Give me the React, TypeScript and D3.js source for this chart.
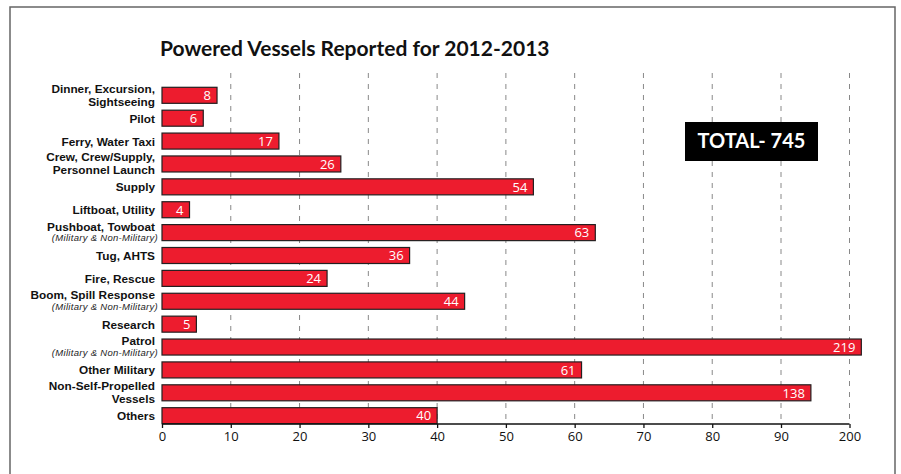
import { useRef, useEffect } from "react"
import * as d3 from "d3"

// vessel categories, top to bottom ("|" splits a label over two lines)
const categories = [
  "Dinner, Excursion, |Sightseeing",
  "Pilot",
  "Ferry, Water Taxi ",
  "Crew, Crew/Supply, |Personnel Launch",
  "Supply",
  "Liftboat, Utility",
  "Pushboat, Towboat ",
  "Tug, AHTS",
  "Fire, Rescue",
  "Boom, Spill Response",
  "Research",
  "Patrol ",
  "Other Military",
  "Non-Self-Propelled|Vessels",
  "Others",
]
const subtitles = ["", "", "", "", "", "", "(Military & Non-Military)", "", "", "(Military & Non-Military)", "", "(Military & Non-Military)", "", "", ""]
const counts = [8, 6, 17, 26, 54, 4, 63, 36, 24, 44, 5, 219, 61, 138, 40]
const tickValues = [0, 10, 20, 30, 40, 50, 60, 70, 80, 90, 200]
const total = 745

export default function App() {
  const svgRef = useRef<SVGSVGElement>(null)

  useEffect(() => {
    if (!svgRef.current) return
    const svg = d3.select(svgRef.current)
    svg.selectAll("*").remove()

    const height = 474

    // broken axis: last step jumps from 90 to 200
    const x = d3.scaleLinear().domain([0, 90, 200]).range([162, 781, 849.5])
    const y = d3.scaleBand<number>().domain(d3.range(categories.length)).range([87.3, 423.7]).paddingInner(0.3).paddingOuter(0)

    // frame
    svg
      .append("path")
      .attr("d", `M10,${height + 5}V7H895V${height + 5}`)
      .attr("fill", "none")
      .attr("stroke", "#666")
      .attr("stroke-width", 1.5)

    // title
    svg
      .append("text")
      .attr("x", 160)
      .attr("y", 56)
      .attr("font-family", "Lato, 'Open Sans', sans-serif")
      .attr("font-weight", "bold")
      .attr("font-size", "21px")
      .attr("fill", "#111")
      .text("Powered Vessels Reported for 2012-2013")

    // dashed grid
    svg
      .append("g")
      .selectAll("line")
      .data(tickValues.slice(1))
      .join("line")
      .attr("x1", (d) => x(d))
      .attr("x2", (d) => x(d))
      .attr("y1", 73)
      .attr("y2", 424)
      .attr("stroke", "#888")
      .attr("stroke-width", 1)
      .attr("stroke-dasharray", "5,6")

    // bars
    const bars = svg.append("g")
    bars
      .selectAll("rect")
      .data(counts)
      .join("rect")
      .attr("x", x(0))
      .attr("y", (_, i) => y(i))
      .attr("width", (d) => x(d) - x(0))
      .attr("height", y.bandwidth())
      .attr("fill", "#ed1c2e")
      .attr("stroke", "#231f20")
      .attr("stroke-width", 1.2)

    bars
      .selectAll("text")
      .data(counts)
      .join("text")
      .attr("x", (d) => x(d) - 6)
      .attr("y", (_, i) => y(i) + y.bandwidth() / 2 + 4.8)
      .attr("text-anchor", "end")
      .attr("fill", "white")
      .attr("font-family", "'Open Sans', sans-serif")
      .attr("font-size", "13px")
      .text((d) => d)

    // category labels
    const labels = svg
      .append("g")
      .attr("font-family", "'Liberation Sans Narrow', 'Liberation Sans', Arial, sans-serif")
      .style("white-space", "pre")
    const label = (text: string, yy: number) =>
      labels
        .append("text")
        .attr("x", 155)
        .attr("y", yy)
        .attr("text-anchor", "end")
        .attr("font-weight", "bold")
        .attr("font-size", "11.8px")
        .attr("fill", "#111")
        .text(text)

    categories.forEach((c, i) => {
      const cy = y(i) + y.bandwidth() / 2
      const lines = c.split("|")
      const sub = subtitles[i]
      if (lines.length === 2) {
        label(lines[0], cy - 2.5)
        label(lines[1], cy + 10.5)
      } else if (sub) {
        label(lines[0], cy - 2)
        labels
          .append("text")
          .attr("x", 158)
          .attr("y", cy + 8.5)
          .attr("text-anchor", "end")
          .attr("font-family", "'Liberation Sans', Arial, sans-serif")
          .attr("font-style", "italic")
          .attr("font-size", "9.5px")
          .attr("letter-spacing", "0.3px")
          .attr("fill", "#222")
          .text(sub)
      } else {
        label(lines[0], cy + 4.5)
      }
    })

    // x axis
    const axis = svg
      .append("g")
      .attr("transform", "translate(0,424)")
      .call(d3.axisBottom(x).tickValues(tickValues).tickSize(4).tickPadding(4).tickFormat(d3.format("d")))
    axis.select(".domain").attr("stroke", "#111").attr("stroke-width", 1.3).attr("d", `M${x(0)},0H${x(200)}`)
    axis.selectAll(".tick line").attr("stroke", "#111").attr("stroke-width", 1.3)
    axis
      .selectAll(".tick text")
      .attr("fill", "#111")
      .attr("font-family", "'Open Sans', sans-serif")
      .attr("font-size", "13px")

    // total badge
    const badge = svg.append("g")
    badge.append("rect").attr("x", 685).attr("y", 122).attr("width", 133).attr("height", 39).attr("fill", "#000")
    badge
      .append("text")
      .attr("x", 751.5)
      .attr("y", 148)
      .attr("text-anchor", "middle")
      .attr("fill", "white")
      .attr("font-family", "Lato, 'Open Sans', sans-serif")
      .attr("font-weight", "bold")
      .attr("font-size", "20px")
      .text(`TOTAL- ${total}`)
  }, [])

  return (
    <div style={{ position: "absolute", left: 0, top: 0 }}>
      <svg ref={svgRef} width={901} height={474} style={{ display: "block", background: "white" }} />
    </div>
  )
}
